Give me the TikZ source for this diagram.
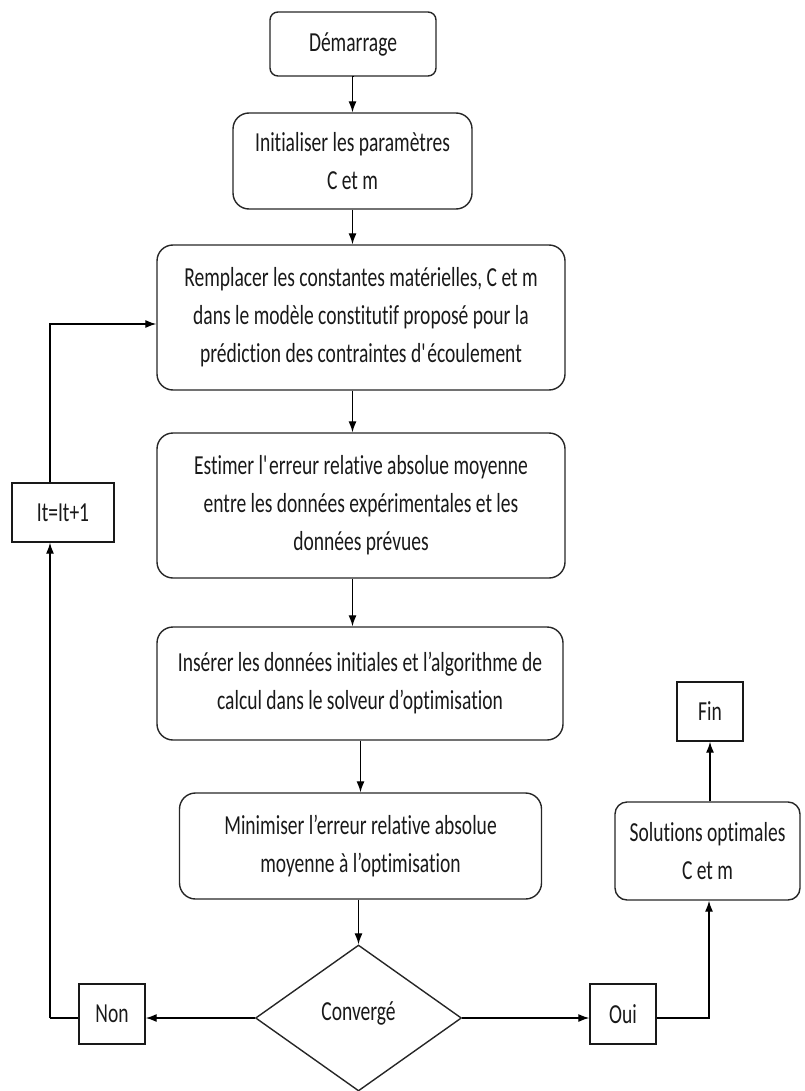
\documentclass[tikz,border=0pt]{standalone}
\usepackage{fontspec}
\setmainfont[FakeStretch=0.71,Ligatures={NoCommon}]{Carlito}
\usetikzlibrary{arrows.meta,shapes.geometric}
\begin{document}
\begin{tikzpicture}[x=1pt,y=-1pt,
  every node/.style={font=\fontsize{27.5}{38}\selectfont, text=black!90},
  rbox/.style={draw=black!85, line width=1.4pt, rounded corners=#1, align=center, inner sep=0pt},
  rbox/.default=16pt,
  sbox/.style={draw=black!90, line width=1.4pt, align=center, inner sep=0pt},
  dbox/.style={draw=black!85, line width=1.4pt, diamond, aspect=1.41, inner sep=0pt, minimum width=206pt, minimum height=146pt},
  conn/.style={draw=black, line width=1.3pt},
  arr/.style={conn, -{Latex[length=11pt,width=8pt]}}]
\useasboundingbox (0,0) rectangle (804,1091);
\node[rbox=8pt, minimum width=166pt, minimum height=64pt] (start) at (353,44) {Démarrage};
\node[rbox, minimum width=239pt, minimum height=96pt] (init) at (352.5,161) {Initialiser les paramètres\\C et m};
\node[rbox, minimum width=408pt, minimum height=145pt] (repl) at (361,317.5) {Remplacer les constantes matérielles, C et m\\dans le modèle constitutif proposé pour la\\prédiction des contraintes d\textquotesingle écoulement};
\node[rbox, minimum width=408pt, minimum height=145pt] (est) at (361,505.5) {Estimer l\textquotesingle erreur relative absolue moyenne\\entre les données expérimentales et les\\données prévues};
\node[rbox, minimum width=406pt, minimum height=113pt] (ins) at (360,683.5) {Insérer les données initiales et l’algorithme de\\calcul dans le solveur d’optimisation};
\node[rbox, minimum width=362pt, minimum height=106pt] (min) at (360.5,846) {Minimiser l’erreur relative absolue\\moyenne à l’optimisation};
\node[dbox] (conv) at (358.5,1018) {\raisebox{13pt}{Convergé}};
\node[sbox, minimum width=66pt, minimum height=60pt] (non) at (112,1014) {Non};
\node[sbox, minimum width=66pt, minimum height=60pt] (oui) at (623,1014) {Oui};
\node[rbox=12pt, minimum width=185pt, minimum height=98pt] (sol) at (707.5,851) {Solutions optimales\\C et m};
\node[sbox, minimum width=66pt, minimum height=59pt] (fin) at (710,711.5) {Fin};
\node[sbox, minimum width=102pt, minimum height=59pt] (it) at (63,512.5) {It=It+1};
\coordinate (lb) at (50,1018);
\coordinate (lt) at (50,324);
\coordinate (rb) at (709,1018);
\draw[arr] (start.south) -- (init.south |- start.south) -- (init.north);
\draw[arr] (init.south) -- (init.south |- repl.north);
\draw[arr] (init.south |- repl.south) -- (init.south |- est.north);
\draw[arr] (init.south |- est.south) -- (init.south |- ins.north);
\draw[arr] (ins.south -| min.south) -- (min.north);
\draw[arr] (min.south -| conv.north) -- (conv.north);
\draw[arr] (conv.west) -- (conv.west -| non.east);
\draw[arr] (conv.east) -- (conv.east -| oui.west);
\draw[conn] (non.west |- lb) -- (lb);
\draw[arr] (lb) -- (it.south -| lb);
\draw[arr] (it.north -| lt) -- (lt) -- (lt -| repl.west);
\draw[arr] (oui.east |- rb) -- (rb) -- (rb |- sol.south);
\draw[arr] (sol.north -| fin.south) -- (fin.south);
\end{tikzpicture}
\end{document}
